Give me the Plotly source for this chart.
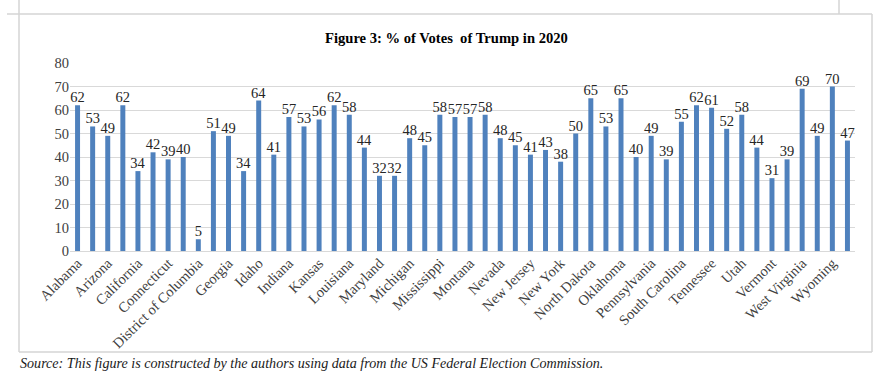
import plotly.graph_objects as go

states = ["Alabama", "Alaska", "Arizona", "Arkansas", "California", "Colorado",
          "Connecticut", "Delaware", "District of Columbia", "Florida", "Georgia",
          "Hawaii", "Idaho", "Illinois", "Indiana", "Iowa", "Kansas", "Kentucky",
          "Louisiana", "Maine", "Maryland", "Massachusetts", "Michigan", "Minnesota",
          "Mississippi", "Missouri", "Montana", "Nebraska", "Nevada", "New Hampshire",
          "New Jersey", "New Mexico", "New York", "North Carolina", "North Dakota",
          "Ohio", "Oklahoma", "Oregon", "Pennsylvania", "Rhode Island",
          "South Carolina", "South Dakota", "Tennessee", "Texas", "Utah", "Virginia",
          "Vermont", "Washington", "West Virginia", "Wisconsin", "Wyoming",
          "United States"]

trump_pct = [62, 53, 49, 62, 34, 42, 39, 40, 5, 51, 49, 34, 64, 41, 57, 53, 56, 62,
             58, 44, 32, 32, 48, 45, 58, 57, 57, 58, 48, 45, 41, 43, 38, 50, 65, 53,
             65, 40, 49, 39, 55, 62, 61, 52, 58, 44, 31, 39, 69, 49, 70, 47]

shown_labels = states[::2]
y_ticks = [0, 10, 20, 30, 40, 50, 60, 70, 80]

title_text = "Figure 3: % of Votes  of Trump in 2020"
source_text = ("Source: This figure is constructed by the authors using data "
               "from the US Federal Election Commission.")

W, H = 885, 377
L, R, T, B = 70, 30, 63, 126
pw, ph = W - L - R, H - T - B


def px_x(p):
    return (p - L) / pw


def px_y(p):
    return (H - B - p) / ph


serif = "Liberation Serif, Times New Roman, serif"

fig = go.Figure(go.Bar(
    x=states, y=trump_pct,
    marker=dict(color="#4F81BD", line=dict(width=0)),
    text=trump_pct, texttemplate="%{text}", textposition="outside",
    textfont=dict(family=serif, size=14.5, color="#262626"),
    constraintext="none", cliponaxis=False,
))

line_col = "#d4d4d4"
shapes = []
for (x0, y0, x1, y1) in [(19, 0, 19, 352), (7, 14, 872, 14), (872, 14, 872, 352),
                         (19, 352, 872, 352), (839, 0, 839, 14)]:
    shapes.append(dict(type="line", xref="paper", yref="paper",
                       x0=px_x(x0), y0=px_y(y0), x1=px_x(x1), y1=px_y(y1),
                       line=dict(color=line_col, width=1.5)))

fig.update_layout(
    width=W, height=H,
    margin=dict(l=L, r=R, t=T, b=B, autoexpand=False),
    paper_bgcolor="white", plot_bgcolor="white",
    bargap=0.67,
    showlegend=False,
    shapes=shapes,
    annotations=[
        dict(text="<b>" + title_text + "</b>", xref="paper", yref="paper",
             x=px_x(446), y=px_y(38), showarrow=False, xanchor="center",
             yanchor="middle", font=dict(family=serif, size=14.6, color="black")),
        dict(text="<i>" + source_text + "</i>", xref="paper", yref="paper",
             x=px_x(18), y=px_y(363), showarrow=False, xanchor="left",
             yanchor="middle", font=dict(family=serif, size=14.1, color="#1a1a1a")),
    ],
    xaxis=dict(
        type="category", tickmode="array", tickvals=shown_labels,
        ticktext=shown_labels, tickangle=-45, showgrid=False, ticks="",
        tickfont=dict(family=serif, size=14.5, color="#404040"),
        showline=False, range=[-0.5, len(states) - 0.5], automargin=False,
    ),
    yaxis=dict(
        range=[0, 80], tickvals=y_ticks, showgrid=True, gridcolor="#d9d9d9",
        gridwidth=1, zeroline=True, zerolinecolor="#d9d9d9", zerolinewidth=1,
        ticks="", tickfont=dict(family=serif, size=14.5, color="#404040"),
        showline=False, automargin=False,
    ),
)

fig.write_html("out.html",
               config={"displayModeBar": False},
               post_script="document.body.style.margin='0';"
                           "document.body.style.overflow='hidden';")
